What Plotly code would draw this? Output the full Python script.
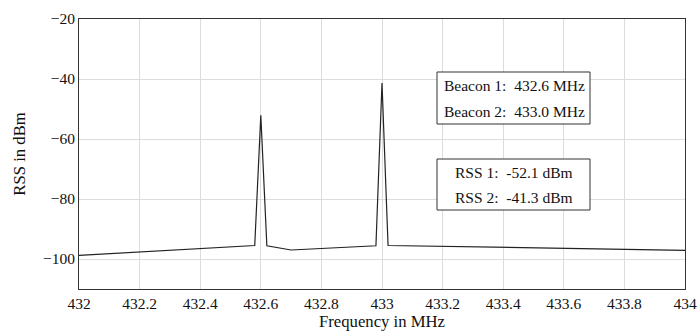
import plotly.graph_objects as go

freq_mhz = [432.0, 432.58, 432.6, 432.62, 432.7, 432.98, 433.0, 433.02, 434.0]
rss_dbm = [-98.8, -95.5, -52.1, -95.6, -97.0, -95.6, -41.3, -95.5, -97.1]

x_ticks = [432, 432.2, 432.4, 432.6, 432.8, 433, 433.2, 433.4, 433.6, 433.8, 434]
x_tick_labels = ["432", "432.2", "432.4", "432.6", "432.8", "433", "433.2", "433.4", "433.6", "433.8", "434"]
y_ticks = [-100, -80, -60, -40, -20]

beacon_lines = ["Beacon 1:  432.6 MHz", "Beacon 2:  433.0 MHz"]
rss_lines = ["RSS 1:  -52.1 dBm", "RSS 2:  -41.3 dBm"]

FONT = "Liberation Serif"

fig = go.Figure()
fig.add_trace(go.Scatter(x=freq_mhz, y=rss_dbm, mode="lines",
                         line=dict(color="#222222", width=1.2), showlegend=False))

W, H = 697, 332
L, R, T, B = 79, 12, 19, 43
pw, ph = W - L - R, H - T - B

def px(x):
    return (x - L) / pw

def py(y):
    return (H - B - y) / ph

shapes = [
    dict(type="rect", xref="paper", yref="paper", x0=px(437), x1=px(590), y0=py(124), y1=py(72),
         line=dict(color="#333333", width=1), fillcolor="white", layer="above"),
    dict(type="rect", xref="paper", yref="paper", x0=px(437), x1=px(590), y0=py(210), y1=py(159),
         line=dict(color="#333333", width=1), fillcolor="white", layer="above"),
]

annotations = []
for txt, yy in zip(beacon_lines, [86, 111]):
    annotations.append(dict(text=txt, xref="paper", yref="paper", x=px(442), y=py(yy),
                            xanchor="left", yanchor="middle", showarrow=False,
                            font=dict(family=FONT, size=15.5, color="#111111")))
for txt, yy in zip(rss_lines, [172, 197]):
    annotations.append(dict(text=txt, xref="paper", yref="paper", x=px(513.5), y=py(yy),
                            xanchor="center", yanchor="middle", showarrow=False,
                            font=dict(family=FONT, size=15.5, color="#111111")))

fig.update_layout(
    width=W, height=H,
    margin=dict(l=L, r=R, t=T, b=B),
    paper_bgcolor="white", plot_bgcolor="white",
    font=dict(family=FONT, size=15, color="#111111"),
    shapes=shapes, annotations=annotations,
    xaxis=dict(range=[432, 434], tickvals=x_ticks, ticktext=x_tick_labels,
               showgrid=True, gridcolor="#dcdcdc", gridwidth=1,
               showline=True, linecolor="#333333", linewidth=1, mirror=True,
               zeroline=False, ticks="", automargin=False,
               title=dict(text="Frequency in MHz", standoff=3,
                          font=dict(family=FONT, size=16.7, color="#111111")),
               tickfont=dict(family=FONT, size=15.5, color="#111111")),
    yaxis=dict(range=[-110, -20], tickvals=y_ticks,
               showgrid=True, gridcolor="#dcdcdc", gridwidth=1,
               showline=True, linecolor="#333333", linewidth=1, mirror=True,
               zeroline=False, ticks="", automargin=False,
               title=dict(text="RSS in dBm", standoff=13,
                          font=dict(family=FONT, size=16.7, color="#111111")),
               tickfont=dict(family=FONT, size=15.5, color="#111111")),
)

fig.write_html("out.html", config={"displayModeBar": False},
               post_script="document.body.style.margin='0';document.body.style.overflow='hidden';")
